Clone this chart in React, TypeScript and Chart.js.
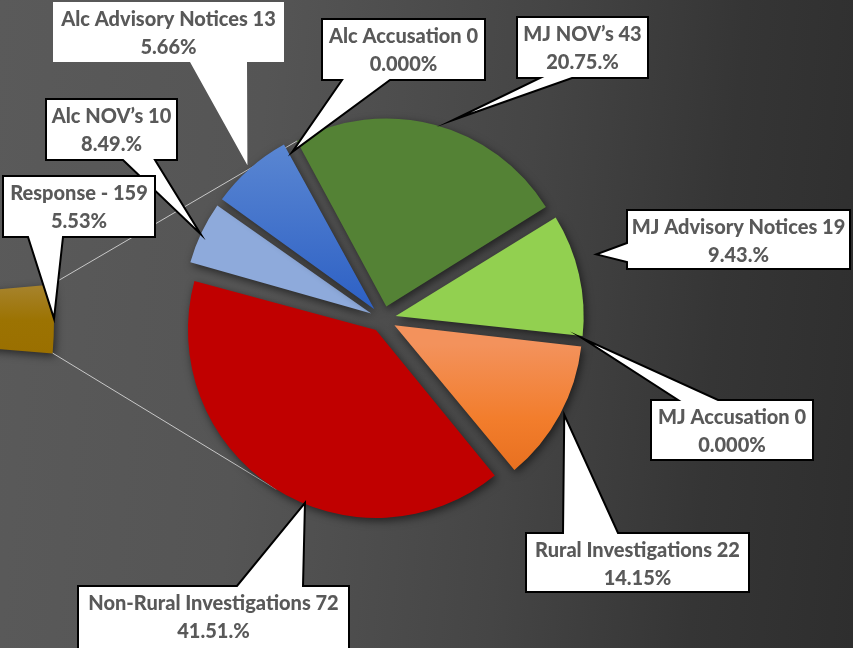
import React, { useEffect, useRef } from 'react';
import { Chart, registerables } from 'chart.js';

Chart.register(...registerables);

// ---------- data ----------
const SLICE_NAMES = [
  'MJ NOV\u2019s',
  'MJ Advisory Notices',
  'MJ Accusation',
  'Rural Investigations',
  'Non-Rural Investigations',
  'Alc NOV\u2019s',
  'Alc Advisory Notices',
  'Alc Accusation',
];
const SLICE_COUNTS = [43, 19, 0, 22, 72, 10, 13, 0];
const SLICE_PERCENT_LABELS = ['20.75.%', '9.43.%', '0.000%', '14.15%', '41.51.%', '8.49.%', '5.66%', '0.000%'];

const SECONDARY_NAMES = ['Response'];
const SECONDARY_COUNTS = [159];
const SECONDARY_PERCENT_LABELS = ['5.53%'];

// ---------- layout / style ----------
const W = 853;
const H = 648;
const MAIN_CX = 383;
const MAIN_CY = 319;
const MAIN_R = 188;
const EXPLODE = 13;
const MAIN_ROTATION = 331.6;

const SEC_CX = -350;
const SEC_CY = 320;
const SEC_R = 404;
const SEC_ROTATION = 84.9;
const SEC_CIRC = 9.8;
const SEC_SIZE = 2 * SEC_R + 12;

const BG = 'linear-gradient(95deg, #5a5a5a 0%, #555555 30%, #454545 60%, #353535 82%, #2e2e2e 100%)';
const LABEL_FONT = '900 20px Lato, "Open Sans", sans-serif';
const LABEL_COLOR = '#595959';

type Fill = string | [number, string][];
const SLICE_FILLS: Fill[] = [
  '#548235',
  '#92d050',
  '#a5a5a5',
  [[0.55, '#f3925c'], [0.75, '#f27d2c'], [0.93, '#e56c1c']],
  '#c00000',
  '#8eaadb',
  [[0.03, '#5d89d3'], [0.48, '#2f62c5']],
  '#5b9bd5',
];
const SEC_FILL: [number, string][] = [[0.05, '#a6822a'], [0.5, '#9c7302'], [1, '#9a6f00']];

type Callout = {
  slice: number; x: number; y: number; w: number; h: number;
  side: 'top' | 'bottom' | 'left'; a: number; b: number;
  tipDeg: number; tipR: number; border: number;
};
const CALLOUTS: Callout[] = [
  { slice: 0, x: 517, y: 17, w: 131, h: 61, side: 'bottom', a: 540, b: 572, tipDeg: 19.7, tipR: 198, border: 2 },
  { slice: 1, x: 627, y: 210, w: 223, h: 59, side: 'left', a: 243, b: 262, tipDeg: 72.9, tipR: 210, border: 2 },
  { slice: 2, x: 651, y: 400, w: 162, h: 60, side: 'top', a: 678, b: 718, tipDeg: 95.4, tipR: 187, border: 2 },
  { slice: 3, x: 526, y: 533, w: 223, h: 59, side: 'top', a: 563, b: 618, tipDeg: 117.8, tipR: 192, border: 2 },
  { slice: 4, x: 78, y: 586, w: 271, h: 66, side: 'top', a: 237, b: 303, tipDeg: 202.3, tipR: 187, border: 2 },
  { slice: 5, x: 46, y: 99, w: 131, h: 61, side: 'bottom', a: 123, b: 155, tipDeg: 294.9, tipR: 188, border: 2 },
  { slice: 6, x: 53, y: 2, w: 231, h: 60, side: 'bottom', a: 190, b: 247, tipDeg: 318.6, tipR: 192, border: 0 },
  { slice: 7, x: 322, y: 19, w: 163, h: 61, side: 'bottom', a: 342, b: 390, tipDeg: 331.4, tipR: 177, border: 2 },
];
const RESPONSE_CALLOUT = { x: 3, y: 176, w: 152, h: 61, side: 'bottom' as const, a: 28, b: 63, border: 2 };
const LOWER_LINK_DEG = 212;

const rad = (d: number) => (d * Math.PI) / 180;

function makeGradient(chart: any, cy: number, r: number, stops: [number, string][]) {
  const g = chart.ctx.createLinearGradient(0, cy - r, 0, cy + r);
  stops.forEach(([p, c]) => g.addColorStop(p, c));
  return g;
}

function drawCallout(ctx: CanvasRenderingContext2D, c: any, tip: { x: number; y: number }, lines: string[]) {
  const { x, y, w, h, side, a, b, border } = c;
  ctx.save();
  ctx.beginPath();
  ctx.moveTo(x, y);
  if (side === 'top') {
    ctx.lineTo(a, y);
    ctx.lineTo(tip.x, tip.y);
    ctx.lineTo(b, y);
  }
  ctx.lineTo(x + w, y);
  ctx.lineTo(x + w, y + h);
  if (side === 'bottom') {
    ctx.lineTo(b, y + h);
    ctx.lineTo(tip.x, tip.y);
    ctx.lineTo(a, y + h);
  }
  ctx.lineTo(x, y + h);
  if (side === 'left') {
    ctx.lineTo(x, b);
    ctx.lineTo(tip.x, tip.y);
    ctx.lineTo(x, a);
  }
  ctx.closePath();
  ctx.fillStyle = '#ffffff';
  ctx.fill();
  if (border) {
    ctx.lineWidth = border;
    ctx.strokeStyle = '#000000';
    ctx.lineJoin = 'miter';
    ctx.miterLimit = 20;
    ctx.stroke();
  }
  ctx.font = LABEL_FONT;
  ctx.fillStyle = LABEL_COLOR;
  ctx.textAlign = 'center';
  ctx.textBaseline = 'middle';
  ctx.fillText(lines[0], x + w / 2, y + 18);
  ctx.fillText(lines[1], x + w / 2, y + 45.5);
  ctx.restore();
}

function apexOf(arc: any) {
  const half = (arc.startAngle + arc.endAngle) / 2;
  return { x: arc.x + Math.cos(half) * EXPLODE, y: arc.y + Math.sin(half) * EXPLODE };
}

export default function App() {
  const secRef = useRef<HTMLCanvasElement>(null);
  const mainRef = useRef<HTMLCanvasElement>(null);

  useEffect(() => {
    const shadowPlugin = {
      id: 'sliceShadow',
      beforeDatasetsDraw(chart: any) {
        const ctx = chart.ctx;
        ctx.save();
        ctx.shadowColor = 'rgba(0,0,0,0.55)';
        ctx.shadowBlur = 9;
        ctx.shadowOffsetX = 2;
        ctx.shadowOffsetY = 3;
      },
      afterDatasetsDraw(chart: any) {
        chart.ctx.restore();
      },
    };

    const secCanvas = secRef.current!;
    const sec = new Chart(secCanvas, {
      type: 'pie',
      data: {
        labels: SECONDARY_NAMES,
        datasets: [
          {
            data: SECONDARY_COUNTS,
            borderWidth: 0,
            radius: SEC_R,
            backgroundColor: (c: any) => {
              const el = c.chart.getDatasetMeta(0).data[0] as any;
              const area = c.chart.chartArea;
              if (!area) return SEC_FILL[1][1];
              const cy = el && el.y ? el.y : (area.top + area.bottom) / 2;
              return makeGradient(c.chart, cy, SEC_R * 0.09, SEC_FILL);
            },
          } as any,
        ],
      },
      options: {
        responsive: false,
        animation: false,
        devicePixelRatio: 1,
        rotation: SEC_ROTATION,
        circumference: SEC_CIRC,
        events: [],
        layout: { padding: 0 },
        plugins: { legend: { display: false }, tooltip: { enabled: false } },
      } as any,
      plugins: [shadowPlugin],
    });

    // place the secondary canvas so that its pie centre sits at (SEC_CX, SEC_CY)
    const sArc0: any = sec.getDatasetMeta(0).data[0];
    const secLeft = SEC_CX - sArc0.x;
    const secTop = SEC_CY - sArc0.y;
    secCanvas.style.left = `${secLeft}px`;
    secCanvas.style.top = `${secTop}px`;
    sec.update();

    const mainPlugin = {
      id: 'explodedPie',
      beforeDatasetsDraw(chart: any) {
        const ctx = chart.ctx;
        const arcs = chart.getDatasetMeta(0).data;
        arcs.forEach((arc: any) => {
          const fix = 1 - Math.sin(Math.min(Math.PI, arc.circumference || 0));
          arc.outerRadius = MAIN_R - EXPLODE * fix;
        });
        const sArc: any = sec.getDatasetMeta(0).data[0];
        const sx = sArc.x + secLeft;
        const sy = sArc.y + secTop;
        const p1 = { x: sx + sArc.outerRadius * Math.cos(sArc.startAngle), y: sy + sArc.outerRadius * Math.sin(sArc.startAngle) };
        const p2 = { x: sx + sArc.outerRadius * Math.cos(sArc.endAngle), y: sy + sArc.outerRadius * Math.sin(sArc.endAngle) };
        const g = arcs[0];
        const ga = apexOf(g);
        const q1 = { x: ga.x + MAIN_R * Math.cos(g.startAngle), y: ga.y + MAIN_R * Math.sin(g.startAngle) };
        const r = arcs[4];
        const ra = apexOf(r);
        const q2 = { x: ra.x + MAIN_R * Math.cos(rad(LOWER_LINK_DEG - 90)), y: ra.y + MAIN_R * Math.sin(rad(LOWER_LINK_DEG - 90)) };
        ctx.save();
        ctx.strokeStyle = 'rgba(220,220,220,0.85)';
        ctx.lineWidth = 1;
        ctx.beginPath();
        ctx.moveTo(p1.x, p1.y);
        ctx.lineTo(q1.x, q1.y);
        ctx.moveTo(p2.x, p2.y);
        ctx.lineTo(q2.x, q2.y);
        ctx.stroke();
        ctx.restore();
        ctx.save();
        ctx.shadowColor = 'rgba(0,0,0,0.55)';
        ctx.shadowBlur = 9;
        ctx.shadowOffsetX = 2;
        ctx.shadowOffsetY = 3;
      },
      afterDatasetsDraw(chart: any) {
        const ctx = chart.ctx;
        ctx.restore();
        const arcs = chart.getDatasetMeta(0).data;
        CALLOUTS.forEach((c) => {
          const arc = arcs[c.slice];
          const ap = apexOf(arc);
          const ang = rad(c.tipDeg - 90);
          const tip = { x: ap.x + c.tipR * Math.cos(ang), y: ap.y + c.tipR * Math.sin(ang) };
          drawCallout(ctx, c, tip, [
            `${SLICE_NAMES[c.slice]} ${SLICE_COUNTS[c.slice]}`,
            SLICE_PERCENT_LABELS[c.slice],
          ]);
        });
        const sArc: any = sec.getDatasetMeta(0).data[0];
        const mid = (sArc.startAngle + sArc.endAngle) / 2;
        const tip = {
          x: sArc.x + secLeft + sArc.outerRadius * Math.cos(mid),
          y: sArc.y + secTop + sArc.outerRadius * Math.sin(mid),
        };
        drawCallout(ctx, RESPONSE_CALLOUT, tip, [
          `${SECONDARY_NAMES[0]} - ${SECONDARY_COUNTS[0]}`,
          SECONDARY_PERCENT_LABELS[0],
        ]);
      },
    };

    const main = new Chart(mainRef.current!, {
      type: 'pie',
      data: {
        labels: SLICE_NAMES,
        datasets: [
          {
            data: SLICE_COUNTS,
            borderWidth: 0,
            offset: EXPLODE * 4,
            hoverOffset: 0,
            radius: MAIN_R,
            backgroundColor: (c: any) => {
              const f = SLICE_FILLS[c.dataIndex];
              if (typeof f === 'string') return f;
              const area = c.chart.chartArea;
              if (!area) return f[0][1];
              const cy = (area.top + area.bottom) / 2;
              return makeGradient(c.chart, cy, MAIN_R, f);
            },
          } as any,
        ],
      },
      options: {
        responsive: false,
        animation: false,
        devicePixelRatio: 1,
        rotation: MAIN_ROTATION,
        events: [],
        layout: { padding: { left: 0, top: 0, right: W - 2 * MAIN_CX, bottom: H - 2 * MAIN_CY } },
        plugins: { legend: { display: false }, tooltip: { enabled: false } },
      } as any,
      plugins: [mainPlugin],
    });

    return () => {
      main.destroy();
      sec.destroy();
    };
  }, []);

  return (
    <div style={{ position: 'fixed', left: 0, top: 0, width: W, height: H, overflow: 'hidden', background: BG }}>
      <canvas
        ref={secRef}
        width={SEC_SIZE}
        height={SEC_SIZE}
        style={{ position: 'absolute', left: 0, top: 0, width: SEC_SIZE, height: SEC_SIZE }}
      />
      <canvas
        ref={mainRef}
        width={W}
        height={H}
        style={{ position: 'absolute', left: 0, top: 0, width: W, height: H }}
      />
    </div>
  );
}
